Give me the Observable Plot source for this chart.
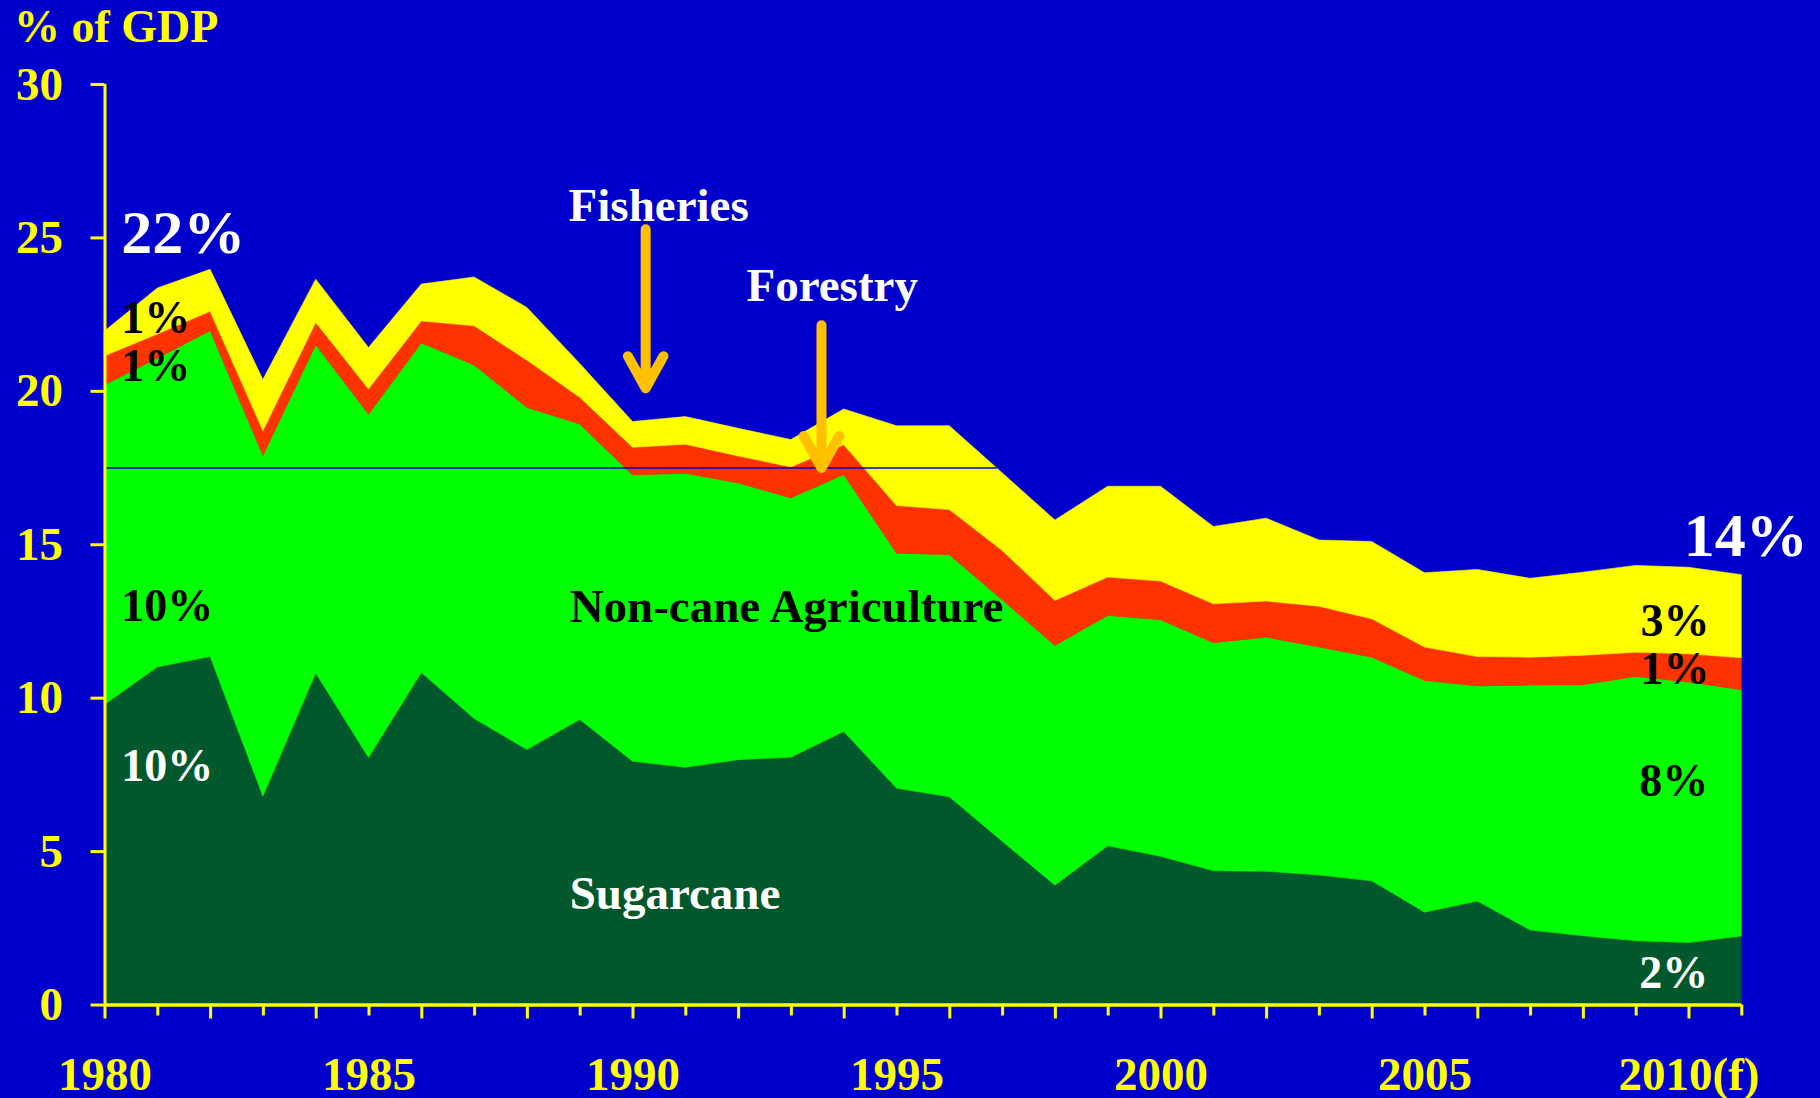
<!DOCTYPE html>
<html>
<head>
<meta charset="utf-8">
<script src="https://cdn.jsdelivr.net/npm/d3@7"></script>
<script src="https://cdn.jsdelivr.net/npm/@observablehq/plot@0.6"></script>
<style>
  html, body { margin: 0; padding: 0; background: #0000cc; }
  #title {
    height: 56px; line-height: 56px; padding-left: 14px;
    font: bold 46px "Liberation Serif", "Times New Roman", serif;
    color: #ffff00; white-space: nowrap;
  }
  #chart svg { display: block; }
</style>
</head>
<body>
<div id="title">% of GDP</div>
<div id="chart"></div>
<script>
// ---- data (% of GDP) ----
const years = [1980, 1981, 1982, 1983, 1984, 1985, 1986, 1987, 1988, 1989,
               1990, 1991, 1992, 1993, 1994, 1995, 1996, 1997, 1998, 1999,
               2000, 2001, 2002, 2003, 2004, 2005, 2006, 2007, 2008, 2009,
               2010, 2011];

const sugarcane = [9.78, 11.0, 11.34, 6.79, 10.8, 8.05, 10.82, 9.32, 8.31, 9.29,
                   7.93, 7.73, 7.98, 8.06, 8.9, 7.05, 6.77, 5.32, 3.89, 5.17,
                   4.83, 4.36, 4.34, 4.22, 4.03, 3.01, 3.37, 2.43, 2.24, 2.08,
                   2.02, 2.23];

const nonCaneAgriculture = [10.42, 10.06, 10.62, 11.1, 10.7, 11.19, 10.74, 11.52, 11.15, 9.63,
                            9.33, 9.58, 9.02, 8.45, 8.37, 7.66, 7.89, 7.87, 7.81, 7.51,
                            7.71, 7.43, 7.63, 7.43, 7.29, 7.55, 7.01, 7.98, 8.18, 8.61,
                            8.49, 8.03];

const forestry = [0.94, 0.79, 0.63, 0.81, 0.73, 0.82, 0.72, 1.28, 1.54, 0.87,
                  0.9, 0.95, 0.88, 1.01, 0.97, 1.55, 1.47, 1.61, 1.47, 1.25,
                  1.26, 1.27, 1.18, 1.33, 1.25, 1.09, 0.96, 0.91, 0.96, 0.79,
                  0.92, 1.04];

const fisheries = [0.81, 1.5, 1.37, 1.67, 1.41, 1.35, 1.2, 1.59, 1.72, 1.1,
                   0.84, 0.9, 0.9, 0.89, 1.17, 2.6, 2.73, 2.53, 2.62, 2.96,
                   3.09, 2.52, 2.7, 2.16, 2.52, 2.42, 2.84, 2.57, 2.71, 2.83,
                   2.82, 2.71];

const seriesNames = ["Sugarcane", "Non-cane Agriculture", "Forestry", "Fisheries"];
const seriesValues = [sugarcane, nonCaneAgriculture, forestry, fisheries];
const seriesColors = ["#00582c", "#00ff00", "#ff3300", "#ffff00"];

const yTicks = [0, 5, 10, 15, 20, 25, 30];
const xLabelTicks = [1980, 1985, 1990, 1995, 2000, 2005, 2010];
const xLabelText = ["1980", "1985", "1990", "1995", "2000", "2005", "2010(f)"];

// tidy table for the stacked areas
const table = [];
seriesNames.forEach((s, k) => {
  years.forEach((yr, i) => table.push({year: yr, series: s, value: seriesValues[k][i]}));
});

// ---- annotations (layout) ----
const annotations = [
  {text: "22%", x: 1980.31, y: 24.5, fill: "white", size: 62, weight: "bold"},
  {text: "1%", x: 1980.31, y: 21.89, fill: "black", size: 46, weight: "bold"},
  {text: "1%", x: 1980.31, y: 20.33, fill: "black", size: 46, weight: "bold"},
  {text: "10%", x: 1980.31, y: 12.52, fill: "black", size: 46, weight: "bold"},
  {text: "10%", x: 1980.31, y: 7.31, fill: "white", size: 46, weight: "bold"},
  {text: "Fisheries", x: 1988.78, y: 25.54, fill: "white", size: 47, weight: "bold"},
  {text: "Forestry", x: 1992.15, y: 22.93, fill: "white", size: 47, weight: "bold"},
  {text: "Non-cane Agriculture", x: 1988.8, y: 12.48, fill: "black", size: 47, weight: "bold"},
  {text: "Sugarcane", x: 1988.8, y: 3.14, fill: "white", size: 47, weight: "bold"},
  {text: "14%", x: 2009.9, y: 14.63, fill: "white", size: 62, weight: "bold"},
  {text: "3%", x: 2009.08, y: 12.03, fill: "black", size: 46, weight: "bold"},
  {text: "1%", x: 2009.08, y: 10.46, fill: "black", size: 46, weight: "bold"},
  {text: "8%", x: 2009.06, y: 6.82, fill: "black", size: 46, weight: "bold"},
  {text: "2%", x: 2009.06, y: 0.57, fill: "white", size: 46, weight: "bold"}
];

const arrows = [
  {x1: 1990.24, y1: 25.28, x2: 1990.24, y2: 20.1},
  {x1: 1993.57, y1: 22.15, x2: 1993.57, y2: 17.5}
];

const fontFamily = "'Liberation Serif', 'Times New Roman', serif";

const chart = Plot.plot({
  width: 1820,
  height: 1042,
  marginTop: 28,
  marginBottom: 93.5,
  marginLeft: 104.5,
  marginRight: 78.7,
  style: {background: "#0000cc", color: "#ffff00", fontFamily, overflow: "visible"},
  x: {domain: [1980, 2011]},
  y: {domain: [0, 30]},
  color: {domain: seriesNames, range: seriesColors},
  marks: [
    Plot.areaY(table, {x: "year", y: "value", fill: "series", stroke: "series", strokeWidth: 0.6}),
    Plot.ruleY([17.5], {x1: 1980, x2: 1996.9, stroke: "#0000cc", strokeWidth: 1.5}),
    Plot.axisY({ticks: yTicks, tickSize: 14, tickPadding: 28, fontSize: 47, fontWeight: "bold",
                strokeWidth: 3, label: null, tickFormat: d => String(d)}),
    Plot.axisX({ticks: years.filter(d => d % 2 === 0), tickSize: 14, strokeWidth: 3,
                tickFormat: () => "", label: null}),
    Plot.axisX({ticks: years.filter(d => d % 2 === 1), tickSize: 11, strokeWidth: 3,
                tickFormat: () => "", label: null}),
    Plot.axisX({ticks: xLabelTicks, tickSize: 0, tickPadding: 52, fontSize: 47, fontWeight: "bold",
                tickFormat: d => xLabelText[xLabelTicks.indexOf(d)], label: null}),
    Plot.ruleX([1980], {stroke: "#ffff00", strokeWidth: 3}),
    Plot.ruleY([0], {stroke: "#ffff00", strokeWidth: 3.5}),
    ...annotations.map(a => Plot.text([a], {
      x: "x", y: "y", text: "text", fill: a.fill, fontSize: a.size, fontWeight: a.weight,
      fontFamily, textAnchor: "start", lineAnchor: "bottom"
    })),
    Plot.arrow(arrows, {x1: "x1", y1: "y1", x2: "x2", y2: "y2", stroke: "#ffc000",
                        strokeWidth: 10, headLength: 5.5, headAngle: 58, strokeLinecap: "round",
                        strokeLinejoin: "round"})
  ]
});

document.getElementById("chart").appendChild(chart);
</script>
</body>
</html>
